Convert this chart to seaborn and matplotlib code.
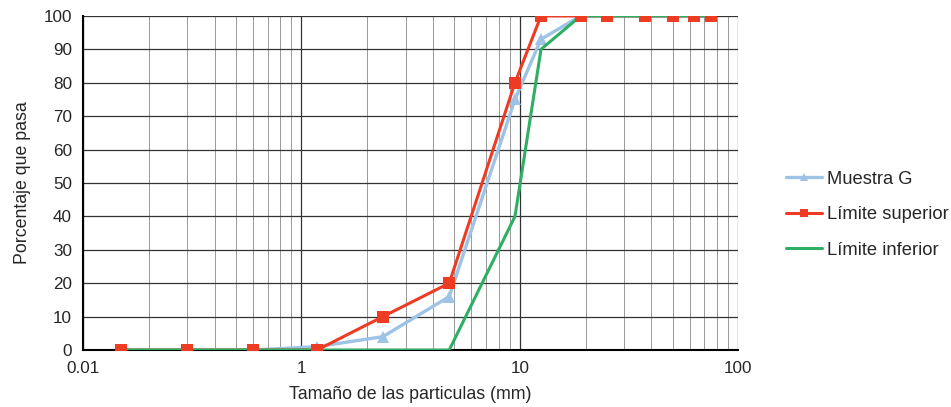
import matplotlib as mpl
import numpy as np
import pandas as pd
import seaborn as sns
from matplotlib import pyplot as plt
from matplotlib.ticker import FixedLocator, FixedFormatter, LogLocator, NullFormatter

# sieve sizes (mm)
SIZES = [0.15, 0.3, 0.6, 1.18, 2.36, 4.75, 9.5, 12.5, 19, 25, 37.5, 50, 63, 75]
MUESTRA_G = [0, 0, 0, 1, 4, 16, 75, 93, 100, 100, 100, 100, 100, 100]
LIM_SUP = [0, 0, 0, 0, 10, 20, 80, 100, 100, 100, 100, 100, 100, 100]
LIM_INF = [0, 0, 0, 0, 0, 0, 40, 90, 100, 100, 100, 100, 100, 100]

X_TICKS = [0.1, 1, 10, 100]
X_TICK_LABELS = ['0.01', '1', '10', '100']

BLUE = '#9dc3e6'
RED = '#ee3b24'
GREEN = '#2eaf63'

sns.set_style('white')
plt.rcParams['font.family'] = ['Liberation Sans', 'DejaVu Sans']

df = pd.DataFrame({'SIZE': SIZES, 'MUESTRA': MUESTRA_G, 'SUP': LIM_SUP, 'INF': LIM_INF})

fig = plt.figure(figsize=(9.51, 4.07), dpi=100)
ax = fig.add_axes([0.0873, 0.14, 0.689, 0.821])
ax.set_xscale('log')

sns.lineplot(data=df, x='SIZE', y='MUESTRA', ax=ax, color=BLUE, lw=2.4,
             marker='^', markersize=8, markeredgewidth=0, label='Muestra G', zorder=3)
sns.lineplot(data=df, x='SIZE', y='SUP', ax=ax, color=RED, lw=2.2,
             marker='s', markersize=8, markeredgewidth=0, label='Límite superior', zorder=4)
sns.lineplot(data=df, x='SIZE', y='INF', ax=ax, color=GREEN, lw=2.2,
             label='Límite inferior', zorder=5)
# red squares sit above the green line
ax.plot(df['SIZE'], df['SUP'], ls='none', marker='s', markersize=8,
        color=RED, markeredgewidth=0, zorder=6)

ax.set_xlim(0.1, 100)
ax.set_ylim(0, 100)
ax.set_yticks(np.arange(0, 101, 10))
ax.xaxis.set_major_locator(FixedLocator(X_TICKS))
ax.xaxis.set_major_formatter(FixedFormatter(X_TICK_LABELS))
ax.xaxis.set_minor_locator(LogLocator(base=10, subs=np.arange(2, 10)))
ax.xaxis.set_minor_formatter(NullFormatter())

ax.set_axisbelow(True)
ax.grid(True, which='major', axis='both', color='#333333', lw=0.9)
ax.grid(True, which='minor', axis='x', color='#999999', lw=0.7)

for side in ['top', 'right']:
    ax.spines[side].set_visible(False)
for side in ['left', 'bottom']:
    ax.spines[side].set_color('black')
    ax.spines[side].set_linewidth(1.5)

ax.tick_params(axis='both', which='major', direction='out', length=5, width=1,
               color='black', labelsize=12.3, pad=3)
ax.tick_params(axis='x', which='minor', length=0)

ax.set_xlabel('Tamaño de las particulas (mm)', fontsize=12.8, labelpad=7)
ax.set_ylabel('Porcentaje que pasa', fontsize=12.8, labelpad=9)

ax.legend(loc='center left', bbox_to_anchor=(1.061, 0.405), frameon=False,
          fontsize=13.2, handlelength=2.0, labelspacing=1.0, handletextpad=0.25,
          markerscale=0.8, borderaxespad=0)

plt.savefig('out.png', dpi=100)
